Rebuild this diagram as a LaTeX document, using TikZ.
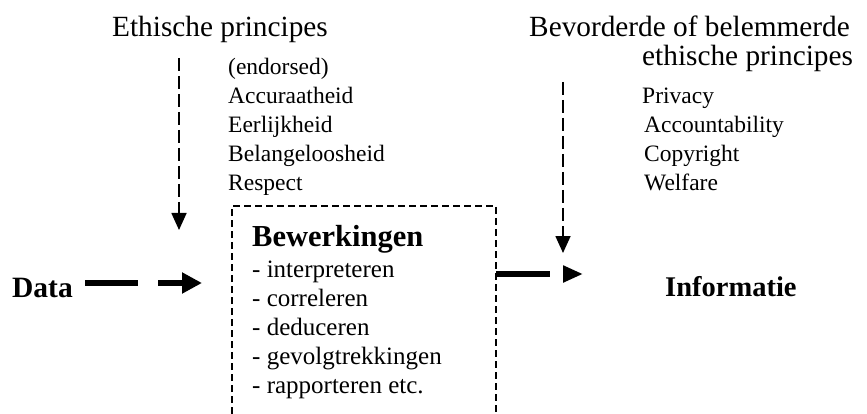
\documentclass[tikz,border=0pt]{standalone}
\usepackage{fontspec}
\setmainfont{Liberation Serif}
\usetikzlibrary{arrows.meta}
\begin{document}
\begin{tikzpicture}[x=1pt,y=-1pt,
  small/.style={anchor=base west,inner sep=0pt,font=\fontsize{23.5}{28}\selectfont},
  item/.style={anchor=base west,inner sep=0pt,font=\fontsize{25}{29}\selectfont},
  big/.style={anchor=base west,inner sep=0pt,font=\fontsize{29.3}{34}\selectfont},
  bigb/.style={anchor=base west,inner sep=0pt,font=\fontsize{29.5}{34}\selectfont\bfseries},
  vdash/.style={line width=1.7pt,dash pattern=on 13pt off 5pt,-{Triangle[length=17pt,width=15pt]}},
  boxline/.style={line width=1.3pt,dash pattern=on 7pt off 4pt},
  fatin/.style={line width=6pt,dash pattern=on 53pt off 20pt,-{Triangle[length=20pt,width=20pt]}},
  fatout/.style={line width=6pt,dash pattern=on 54pt off 13pt,-{Triangle[length=20pt,width=16pt]}}]
\useasboundingbox (0,0) rectangle (867,414);
% left column
\node[big] (t1) at (112,37) {Ethische principes};
\node[small] (endo) at (228,75) {(endorsed)};
\node[small] (acc) at (228,104) {Accuraatheid};
\node[small] (eer) at (228,133) {Eerlijkheid};
\node[small] (bel) at (228,162) {Belangeloosheid};
\node[small] (res) at (228,191) {Respect};
% right column
\node[big] (t2) at (529,37) {Bevorderde of belemmerde};
\node[big] (t2b) at (642,66) {ethische principes};
\node[small] (pri) at (642,104) {Privacy};
\node[small] (acn) at (644,133) {Accountability};
\node[small] (cop) at (644,162) {Copyright};
\node[small] (wel) at (644,191) {Welfare};
% box content
\node[bigb,font=\fontsize{30.5}{34}\selectfont\bfseries] (bew) at (252,246) {Bewerkingen};
\node[item] (i1) at (252,277) {- interpreteren};
\node[item] (i2) at (252,306) {- correleren};
\node[item] (i3) at (252,335) {- deduceren};
\node[item] (i4) at (252,364) {- gevolgtrekkingen};
\node[item] (i5) at (252,393) {- rapporteren etc.};
% data / informatie
\node[bigb] (data) at (12,297) {Data};
\node[bigb,font=\fontsize{28.5}{34}\selectfont\bfseries] (info) at (665,296) {Informatie};
% box
\coordinate (bl) at (232,414);
\coordinate (tl) at (232,206);
\coordinate (tr) at (496,206);
\coordinate (br) at (496,414);
\draw[boxline] (bl) -- (tl) -- (tr) -- (br);
% dashed vertical arrows
\coordinate (a1s) at (179,58);
\coordinate (a1e) at (179,230);
\draw[vdash] (a1s) -- (a1e);
\coordinate (a2s) at (563,82);
\coordinate (a2e) at (563,253);
\draw[vdash] (a2s) -- (a2e);
% fat arrows
\coordinate (dout) at (85,283);
\coordinate (din) at (202,283);
\draw[fatin] (dout) -- (din);
\coordinate (bout) at (496,274);
\coordinate (iin) at (583,274);
\draw[fatout] (bout) -- (iin);
\end{tikzpicture}
\end{document}
